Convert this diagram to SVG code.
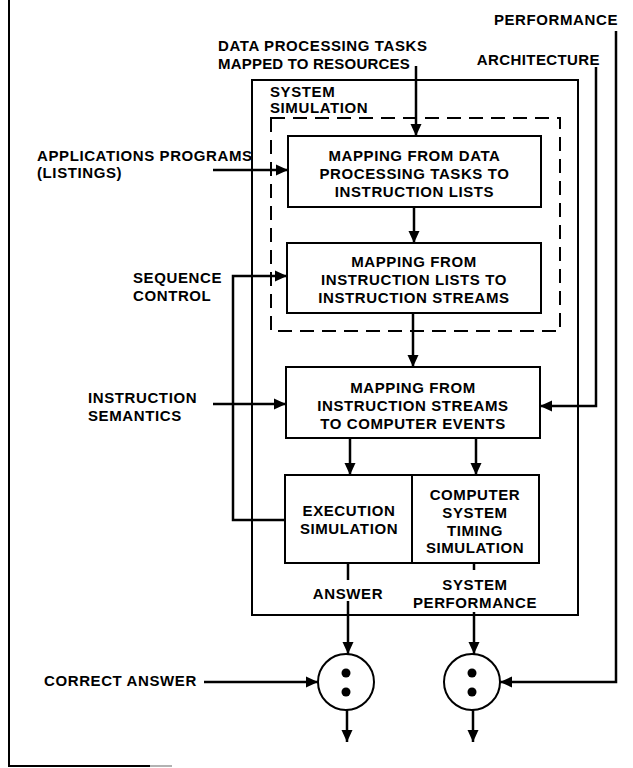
<svg xmlns="http://www.w3.org/2000/svg" width="633" height="768" viewBox="0 0 633 768">
<defs>
<marker id="ah" markerUnits="userSpaceOnUse" markerWidth="13" markerHeight="13" viewBox="0 0 13 13" refX="12" refY="6.5" orient="auto">
<path d="M0,1 L12,6.5 L0,12 Z" fill="#000"/>
</marker>
<style>
text{font-family:"Liberation Sans",Arial,sans-serif;font-size:15px;font-weight:bold;letter-spacing:0.6px;fill:#000}
.c{text-anchor:middle}
.e{text-anchor:end}
.box{fill:#fff;stroke:#000;stroke-width:2}
.ln{fill:none;stroke:#000;stroke-width:2.5}
.ar{fill:none;stroke:#000;stroke-width:2.5;marker-end:url(#ah)}
</style>
</defs>
<rect width="633" height="768" fill="#fff"/>
<g id="frame">
<path d="M9,0 V766 H150" fill="none" stroke="#000" stroke-width="2"/>
<path d="M150,766 H172" fill="none" stroke="#999" stroke-width="1.5"/>
</g>
<g id="system-simulation">
<rect x="252" y="80" width="326" height="535" fill="none" stroke="#000" stroke-width="2"/>
<text x="270" y="97">SYSTEM</text>
<text x="270" y="113">SIMULATION</text>
</g>
<g id="dashed-group">
<rect x="271" y="118" width="289" height="213" fill="none" stroke="#000" stroke-width="2" stroke-dasharray="14,8"/>
</g>
<g id="box1">
<rect class="box" x="288" y="136" width="253" height="71"/>
<text class="c" x="414.5" y="160.5">MAPPING FROM DATA</text>
<text class="c" x="414.5" y="178.5">PROCESSING TASKS TO</text>
<text class="c" x="414.5" y="197">INSTRUCTION LISTS</text>
</g>
<g id="box2">
<rect class="box" x="287" y="243" width="254" height="70"/>
<text class="c" x="414" y="266.5">MAPPING FROM</text>
<text class="c" x="414" y="284.5">INSTRUCTION LISTS TO</text>
<text class="c" x="414" y="303">INSTRUCTION STREAMS</text>
</g>
<g id="box3">
<rect class="box" x="286" y="367" width="254" height="71"/>
<text class="c" x="413" y="392.5">MAPPING FROM</text>
<text class="c" x="413" y="410.5">INSTRUCTION  STREAMS</text>
<text class="c" x="413" y="428.5">TO COMPUTER EVENTS</text>
</g>
<g id="execution">
<rect class="box" x="285" y="475" width="127" height="88"/>
<text class="c" x="349" y="515.5">EXECUTION</text>
<text class="c" x="349" y="533.5">SIMULATION</text>
</g>
<g id="timing">
<rect class="box" x="412" y="475" width="127" height="88"/>
<text class="c" x="475" y="499.5">COMPUTER</text>
<text class="c" x="475" y="518">SYSTEM</text>
<text class="c" x="475" y="535.5">TIMING</text>
<text class="c" x="475" y="552.5">SIMULATION</text>
</g>
<g id="compare-answer">
<circle cx="346" cy="682" r="28" fill="#fff" stroke="#000" stroke-width="2"/>
<circle cx="346" cy="673" r="4.5" fill="#000"/>
<circle cx="346" cy="692" r="4.5" fill="#000"/>
</g>
<g id="compare-performance">
<circle cx="472" cy="682" r="28" fill="#fff" stroke="#000" stroke-width="2"/>
<circle cx="472" cy="673" r="4.5" fill="#000"/>
<circle cx="472" cy="692" r="4.5" fill="#000"/>
</g>
<g id="labels">
<text class="e" x="618" y="25">PERFORMANCE</text>
<text x="218" y="50.5">DATA PROCESSING TASKS</text>
<text x="218" y="68.5" style="letter-spacing:0.2px">MAPPED TO RESOURCES</text>
<text class="e" x="600" y="64.5" style="letter-spacing:0.4px">ARCHITECTURE</text>
<text x="37" y="160.5">APPLICATIONS PROGRAMS</text>
<text x="37" y="178">(LISTINGS)</text>
<text x="133" y="282.5">SEQUENCE</text>
<text x="133" y="300.5">CONTROL</text>
<text x="88" y="402.5">INSTRUCTION</text>
<text x="88" y="420.5">SEMANTICS</text>
<text class="c" x="348" y="598.5">ANSWER</text>
<text class="c" x="475" y="589.5">SYSTEM</text>
<text class="c" x="475" y="607.5">PERFORMANCE</text>
<text x="44" y="686">CORRECT ANSWER</text>
</g>
<g id="connectors">
<path class="ar" d="M416,66 V136"/>
<path class="ar" d="M213,170 H288"/>
<path class="ar" d="M414,207 V243"/>
<path class="ar" d="M285,520 H233 V276 H287"/>
<path class="ar" d="M413,313 V367"/>
<path class="ar" d="M213,404 H286"/>
<path class="ar" d="M596,67 V406 H540"/>
<path class="ar" d="M616,31 V682 H500"/>
<path class="ar" d="M350,438 V475"/>
<path class="ar" d="M476,438 V475"/>
<path class="ln" d="M348,563 V580"/>
<path class="ar" d="M348,601 V654"/>
<path class="ln" d="M474,563 V570"/>
<path class="ar" d="M474,612 V654"/>
<path class="ar" d="M204,682 H318"/>
<path class="ar" d="M347,710 V742"/>
<path class="ar" d="M473,710 V742"/>
</g>
</svg>
